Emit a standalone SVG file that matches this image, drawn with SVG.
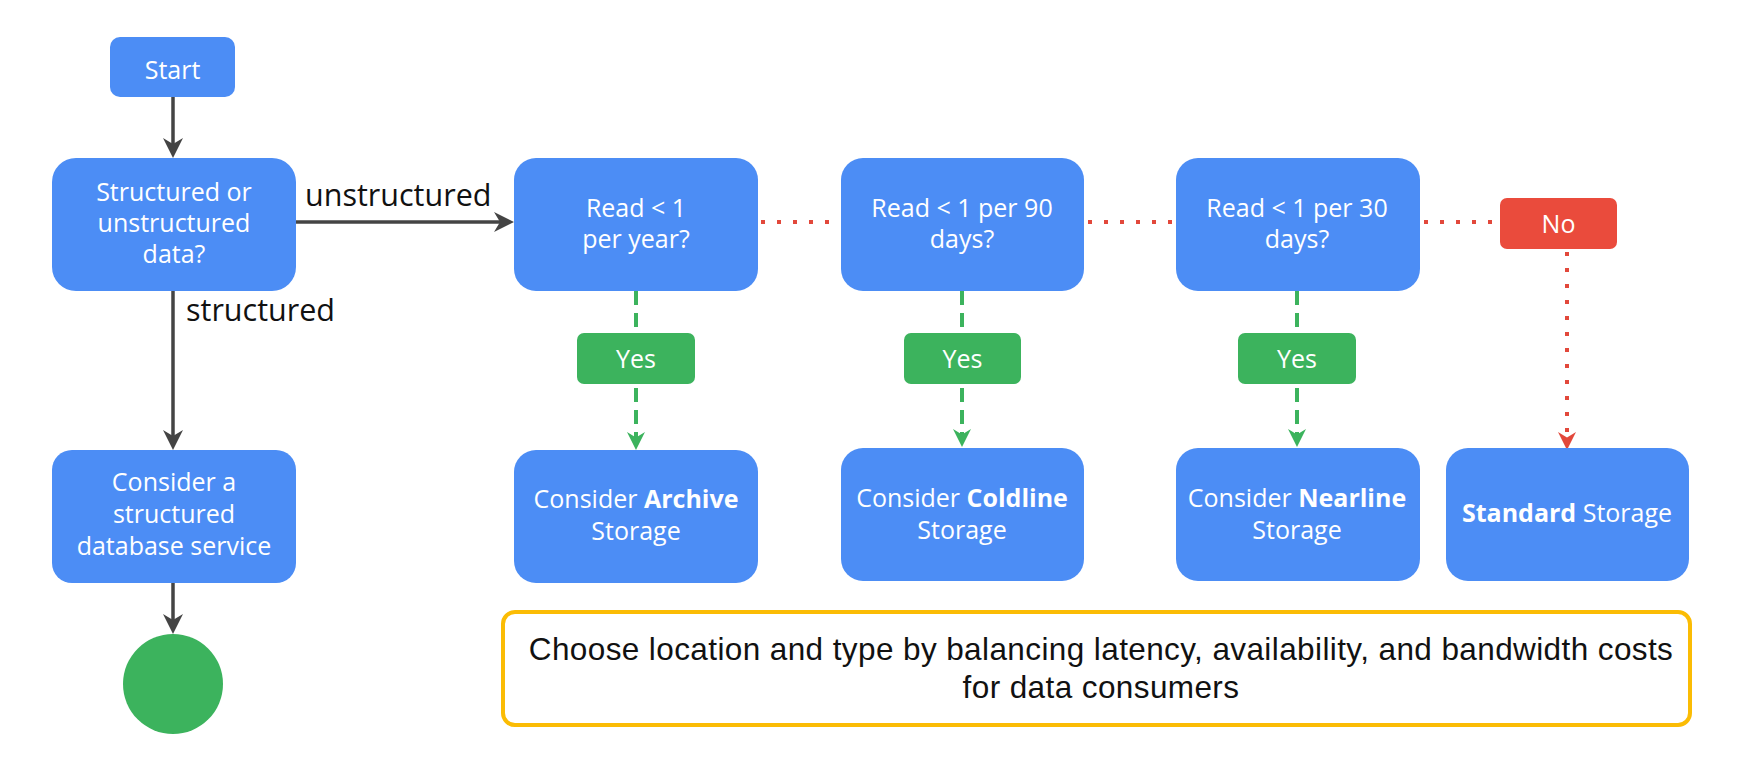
<svg xmlns="http://www.w3.org/2000/svg" width="1754" height="780" viewBox="0 0 1754 780">
<style>
.box{fill:#4C8DF5}
.yes{fill:#3CB35D}
.no{fill:#EA4B3C}
.t{font-family:"Open Sans","Liberation Sans",sans-serif;font-size:25px;fill:#fff;text-anchor:middle}
.b{font-weight:bold}
.lbl{font-family:"Open Sans","Liberation Sans",sans-serif;font-size:30.5px;fill:#111}
.note{font-family:"Liberation Sans",Arial,sans-serif;font-size:31.5px;letter-spacing:0.4px;fill:#111;text-anchor:middle}
.solid{stroke:#444;stroke-width:3.5;fill:none}
.dash{stroke:#3CB35D;stroke-width:4;stroke-dasharray:14 8;fill:none}
.dot{stroke:#E2483B;stroke-width:4;stroke-dasharray:4 12;fill:none}
</style>
<defs>
<marker id="ag" viewBox="0 0 20 22" markerWidth="20" markerHeight="22" refX="10" refY="11" orient="auto" markerUnits="userSpaceOnUse"><path d="M0,1 L20,11 L0,21 L6,11 Z" fill="#444"/></marker>
<marker id="agr" viewBox="0 0 20 22" markerWidth="18" markerHeight="20" refX="10" refY="11" orient="auto" markerUnits="userSpaceOnUse"><path d="M0,1 L20,11 L0,21 L6,11 Z" fill="#3CB35D"/></marker>
<marker id="ared" viewBox="0 0 20 22" markerWidth="18" markerHeight="20" refX="10" refY="11" orient="auto" markerUnits="userSpaceOnUse"><path d="M0,1 L20,11 L0,21 L6,11 Z" fill="#E2483B"/></marker>
</defs>
<rect width="1754" height="780" fill="#fff"/>
<g id="connectors">
<path class="solid" d="M173,97 V148" marker-end="url(#ag)"/>
<path class="solid" d="M296,222 H504" marker-end="url(#ag)"/>
<path class="solid" d="M173,291 V440" marker-end="url(#ag)"/>
<path class="solid" d="M173,583 V624" marker-end="url(#ag)"/>
<path class="dot" d="M761,222 H841"/>
<path class="dot" d="M1088,222 H1176"/>
<path class="dot" d="M1424,222 H1500"/>
<path class="dot" d="M1567,252 V441" marker-end="url(#ared)"/>
<path class="dash" d="M636,291 V333"/>
<path class="dash" d="M636,388 V441" marker-end="url(#agr)"/>
<path class="dash" d="M962,291 V333"/>
<path class="dash" d="M962,388 V438" marker-end="url(#agr)"/>
<path class="dash" d="M1297,291 V333"/>
<path class="dash" d="M1297,388 V438" marker-end="url(#agr)"/>
<text class="lbl" x="305" y="206">unstructured</text>
<text class="lbl" x="186" y="321">structured</text>
</g>
<g id="start"><rect class="box" x="110" y="37" width="125" height="60" rx="10"/><text class="t" x="172.5" y="79">Start</text></g>
<g id="decision"><rect class="box" x="52" y="158" width="244" height="133" rx="24"/>
<text class="t" x="174" y="201">Structured or</text><text class="t" x="174" y="232">unstructured</text><text class="t" x="174" y="263">data?</text></g>
<g id="database"><rect class="box" x="52" y="450" width="244" height="133" rx="20"/>
<text class="t" x="174" y="491">Consider a</text><text class="t" x="174" y="523">structured</text><text class="t" x="174" y="555">database service</text></g>
<g id="end"><circle cx="173" cy="684" r="50" fill="#3CB35D"/></g>
<g id="read1"><rect class="box" x="514" y="158" width="244" height="133" rx="22"/>
<text class="t" x="636" y="217">Read &lt; 1</text><text class="t" x="636" y="248">per year?</text></g>
<g id="read2"><rect class="box" x="841" y="158" width="243" height="133" rx="22"/>
<text class="t" x="962" y="217">Read &lt; 1 per 90</text><text class="t" x="962" y="248">days?</text></g>
<g id="read3"><rect class="box" x="1176" y="158" width="244" height="133" rx="22"/>
<text class="t" x="1297" y="217">Read &lt; 1 per 30</text><text class="t" x="1297" y="248">days?</text></g>
<g id="yes1"><rect class="yes" x="577" y="333" width="118" height="51" rx="7"/><text class="t" x="636" y="368">Yes</text></g>
<g id="yes2"><rect class="yes" x="904" y="333" width="117" height="51" rx="7"/><text class="t" x="962.5" y="368">Yes</text></g>
<g id="yes3"><rect class="yes" x="1238" y="333" width="118" height="51" rx="7"/><text class="t" x="1297" y="368">Yes</text></g>
<g id="no"><rect class="no" x="1500" y="198" width="117" height="51" rx="7"/><text class="t" x="1558.5" y="233">No</text></g>
<g id="archive"><rect class="box" x="514" y="450" width="244" height="133" rx="22"/>
<text class="t" x="636" y="508">Consider <tspan class="b">Archive</tspan></text><text class="t" x="636" y="540">Storage</text></g>
<g id="coldline"><rect class="box" x="841" y="448" width="243" height="133" rx="22"/>
<text class="t" x="962" y="507">Consider <tspan class="b">Coldline</tspan></text><text class="t" x="962" y="539">Storage</text></g>
<g id="nearline"><rect class="box" x="1176" y="448" width="244" height="133" rx="22"/>
<text class="t" x="1297" y="507">Consider <tspan class="b">Nearline</tspan></text><text class="t" x="1297" y="539">Storage</text></g>
<g id="standard"><rect class="box" x="1446" y="448" width="243" height="133" rx="22"/>
<text class="t" x="1567" y="522"><tspan class="b">Standard</tspan> Storage</text></g>
<g id="note"><rect x="503" y="612" width="1187" height="113" rx="12" fill="#fff" stroke="#FBBC04" stroke-width="4"/>
<text class="note"><tspan x="1101" y="660">Choose location and type by balancing latency, availability, and bandwidth costs</tspan><tspan x="1101" y="698">for data consumers</tspan></text></g>
</svg>
